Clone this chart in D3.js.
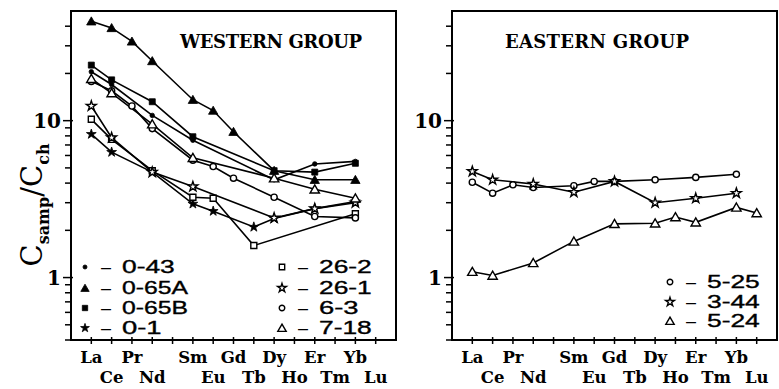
<!DOCTYPE html>
<html><head><meta charset="utf-8">
<script src="https://cdn.jsdelivr.net/npm/d3@7"></script>
<style>body{margin:0;background:#fff}</style>
</head><body><svg id="chart" width="779" height="389"></svg>
<script>
// REE order on the x axis (Pm left blank)
const elements = ["La","Ce","Pr","Nd","Pm","Sm","Eu","Gd","Tb","Dy","Ho","Er","Tm","Yb","Lu"];
const upperRow = ["La","Pr","Sm","Gd","Dy","Er","Yb"];
const lowerRow = ["Ce","Nd","Eu","Tb","Ho","Tm","Lu"];
const yTickLabels = [1, 10];

// Western group, chondrite-normalised (La..Lu, null = not analysed)
const w_0_43  = [20.5, 17,   null, 10.8, null, 7.5,  null, null, null, 4.2,  null, 5.3,  null, 5.5,  null];
const w_0_65A = [43,   39,   32,   24,   null, 13.6, 11.6, 8.5,  null, 4.8,  null, 4.2,  null, 4.2,  null];
const w_0_65B = [22.6, 18.2, null, 13.2, null, 7.9,  null, null, null, 4.8,  null, 4.7,  null, 5.35, null];
const w_0_1   = [8.2,  6.3,  null, 4.7,  null, 2.95, 2.65, null, 2.1,  2.38, null, 2.75, null, 3.05, null];
const w_26_2  = [10.2, 7.6,  null, 4.8,  null, 3.25, 3.2,  null, 1.6,  null, null, null, null, 2.55, null];
const w_26_1  = [12.4, 7.8,  null, 4.7,  null, 3.8,  null, null, null, 2.4,  null, 2.75, null, 3.0,  null];
const w_6_3   = [17.8, 15.5, 12.4, 8.9,  null, 5.6,  5.1,  4.3,  null, 3.25, null, 2.45, null, 2.4,  null];
const w_7_18  = [18.5, 15,   null, 9.5,  null, 5.8,  null, null, null, 4.3,  null, 3.65, null, 3.2,  null];

// Eastern group
const e_5_25 = [4.05, 3.45, 3.9, 3.75, null, 3.85, 4.1, 4.1, null, 4.2, null, 4.35, null, 4.55, null];
const e_3_44 = [4.75, 4.2,  null, 3.95, null, 3.5, null, 4.1, null, 3.0, null, 3.2, null, 3.45, null];
const e_5_24 = [1.09, 1.03, null, 1.24, null, 1.7, null, 2.2, null, 2.22, 2.43, 2.25, null, 2.8, 2.58];

const westSeries = [
  {name:"0-43",  vals:w_0_43,  sym:"circle",   fill:true},
  {name:"0-65A", vals:w_0_65A, sym:"triangle", fill:true},
  {name:"0-65B", vals:w_0_65B, sym:"square",   fill:true},
  {name:"0-1",   vals:w_0_1,   sym:"star",     fill:true},
  {name:"26-2",  vals:w_26_2,  sym:"square",   fill:false},
  {name:"26-1",  vals:w_26_1,  sym:"star",     fill:false},
  {name:"6-3",   vals:w_6_3,   sym:"circle",   fill:false},
  {name:"7-18",  vals:w_7_18,  sym:"triangle", fill:false}
];
const eastSeries = [
  {name:"5-25", vals:e_5_25, sym:"circle",   fill:false},
  {name:"3-44", vals:e_3_44, sym:"star",     fill:false},
  {name:"5-24", vals:e_5_24, sym:"triangle", fill:false}
];

const svg = d3.select("#chart");
const serif = "'DejaVu Serif', 'Liberation Serif', serif";
const sans = "'Liberation Sans', Arial, sans-serif";
const plotTop = 11, plotBottom = 340;
const yScale = d3.scaleLog().domain([0.4, 50]).range([plotBottom, plotTop]);

const symbolTypes = {circle:d3.symbolCircle, triangle:d3.symbolTriangle, square:d3.symbolSquare, star:d3.symbolStar};
function symbolPath(kind, fill, scale) {
  const sizes = {circle: fill ? 16 : 30, triangle: 38, square: 36, star: 30};
  return d3.symbol(symbolTypes[kind], sizes[kind] * scale)();
}
function drawMarker(g, kind, fill, cx, cy, scale = 1) {
  g.append("path").attr("d", symbolPath(kind, fill, scale))
    .attr("transform", `translate(${cx},${cy})` + (kind === "triangle" ? " translate(0,1)" : ""))
    .attr("fill", fill ? "#000" : "#fff")
    .attr("stroke", "#000").attr("stroke-width", fill ? 0.8 : 1.4);
}

function panel(x0, x1, series, title, titleX, titleLen) {
  const x = d3.scaleLinear().domain([-1, 15]).range([x0, x1]);
  const g = svg.append("g");

  // frame
  g.append("rect").attr("x", x0).attr("y", plotTop).attr("width", x1 - x0).attr("height", plotBottom - plotTop)
    .attr("fill", "none").attr("stroke", "#000").attr("stroke-width", 2);

  // log ticks on the left axis
  const ticks = [];
  [0.1, 1, 10].forEach(d => { for (let m = 1; m < 10; m++) { const v = +(d * m).toFixed(2); if (v >= 0.4 && v < 50) ticks.push(v); } });
  ticks.forEach(v => {
    const major = yTickLabels.includes(v);
    g.append("line").attr("x1", x0 - (major ? 8 : 6)).attr("x2", x0 + (major ? 2 : 0))
      .attr("y1", yScale(v)).attr("y2", yScale(v)).attr("stroke", "#000").attr("stroke-width", 1.5);
  });
  yTickLabels.forEach(v => {
    g.append("text").attr("x", x0 - 10).attr("y", yScale(v)).attr("dy", "0.36em")
      .attr("text-anchor", "end").attr("font-family", serif).attr("font-weight", "bold")
      .attr("font-size", 20).text(v);
  });

  // element ticks on the bottom axis
  elements.forEach((el, i) => {
    g.append("line").attr("x1", x(i)).attr("x2", x(i)).attr("y1", plotBottom - 3).attr("y2", plotBottom + 4)
      .attr("stroke", "#000").attr("stroke-width", 1.5);
  });
  upperRow.forEach(el => {
    g.append("text").attr("x", x(elements.indexOf(el))).attr("y", 363).attr("text-anchor", "middle")
      .attr("font-family", serif).attr("font-weight", "bold").attr("font-size", 16.5).text(el);
  });
  lowerRow.forEach(el => {
    g.append("text").attr("x", x(elements.indexOf(el))).attr("y", 383).attr("text-anchor", "middle")
      .attr("font-family", serif).attr("font-weight", "bold").attr("font-size", 16.5).text(el);
  });

  // title
  g.append("text").attr("x", titleX).attr("y", 48).attr("font-family", serif).attr("font-weight", "bold")
    .attr("font-size", 18).attr("textLength", titleLen).attr("lengthAdjust", "spacing").text(title);

  // series lines then markers
  const line = d3.line().x(d => x(d.i)).y(d => yScale(d.v));
  series.forEach(s => {
    const pts = s.vals.map((v, i) => ({i, v})).filter(d => d.v != null);
    g.append("path").attr("d", line(pts)).attr("fill", "none").attr("stroke", "#000").attr("stroke-width", 1.6);
  });
  series.forEach(s => {
    s.vals.forEach((v, i) => { if (v != null) drawMarker(g, s.sym, s.fill, x(i), yScale(v)); });
  });
  return g;
}

const westPanel = panel(71, 396, westSeries, "WESTERN GROUP", 180, 182);
const eastPanel = panel(452, 777, eastSeries, "EASTERN GROUP", 505, 184);

// legends
function legendRow(g, s, mx, cy, charW) {
  drawMarker(g, s.sym, s.fill, mx, cy, 0.8);
  g.append("text").attr("x", mx + 21).attr("y", cy).attr("dy", "0.36em").attr("text-anchor", "middle")
    .attr("font-family", sans).attr("font-size", 18).text("\u2013");
  g.append("text").attr("x", mx + 37).attr("y", cy).attr("dy", "0.36em")
    .attr("font-family", sans).attr("font-size", 18).attr("stroke", "#000").attr("stroke-width", 0.35)
    .attr("textLength", s.name.length * charW).attr("lengthAdjust", "spacingAndGlyphs").text(s.name);
}
const legendRowsY = [267, 288, 308, 328];
westSeries.slice(0, 4).forEach((s, k) => legendRow(westPanel, s, 85, legendRowsY[k], 13.2));
westSeries.slice(4).forEach((s, k) => legendRow(westPanel, s, 282, legendRowsY[k], 13.2));
const eastRowsY = [282, 302, 321];
eastSeries.forEach((s, k) => legendRow(eastPanel, s, 670, eastRowsY[k], 13.2));

// y axis title
const yt = svg.append("text").attr("transform", "translate(42,205) rotate(-90)")
  .attr("text-anchor", "middle").attr("font-family", serif).attr("font-size", 29);
yt.append("tspan").text("C");
yt.append("tspan").attr("font-size", 16).attr("font-weight", "bold").attr("dy", 7).text("samp");
yt.append("tspan").attr("dy", -7).text("/C");
yt.append("tspan").attr("font-size", 16).attr("font-weight", "bold").attr("dy", 7).text("ch");
</script></body></html>
